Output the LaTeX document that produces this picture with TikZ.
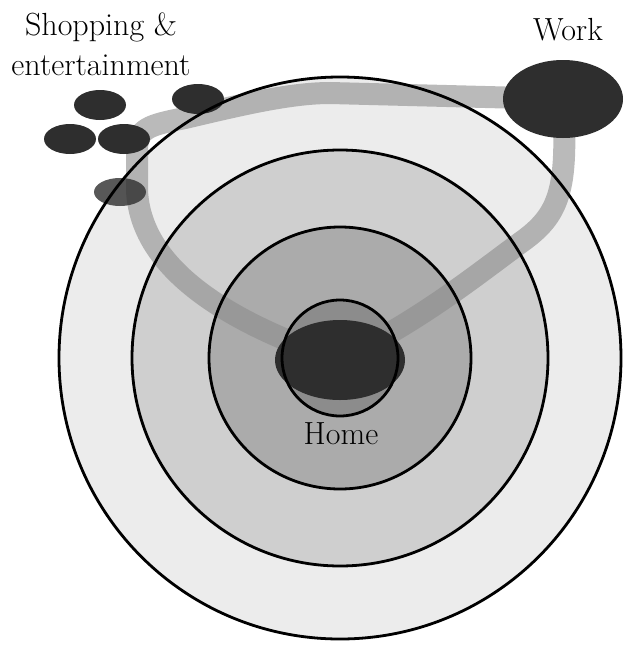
\documentclass[tikz,border=0pt]{standalone}
\usepackage{xcolor}
\definecolor{ringOne}{gray}{0.925}
\definecolor{ringTwo}{gray}{0.81}
\definecolor{ringThree}{gray}{0.67}
\definecolor{ringFour}{gray}{0.55}
\definecolor{blobGray}{gray}{0.18}
\definecolor{roadGray}{gray}{0.55}

\begin{document}
\begin{tikzpicture}[x=1pt,y=-1pt,
  road/.style={draw=roadGray,line width=22pt,draw opacity=0.6},
  blob/.style={fill=blobGray},
  ring/.style={draw=black,line width=2.8pt},
  lbl/.style={font=\fontsize{32}{40}\selectfont,inner sep=0pt}]
\useasboundingbox (0,0) rectangle (624,645);
\coordinate (mid) at (340,358);
\coordinate (home) at (340,360);
\coordinate (work) at (563,99);
\coordinate (shopA) at (100,105);
\coordinate (shopB) at (198,99);
\coordinate (shopC) at (70,139);
\coordinate (shopD) at (124,139);
\coordinate (shopE) at (120,192);
% zones
\fill[ringOne] (mid) circle (281);
\fill[ringTwo] (mid) circle (208);
\fill[ringThree] (mid) circle (131);
\fill[ringFour] (mid) circle (58);
% trips
\draw[road] (home) .. controls (220,320) and (140,265) .. (137,190) -- (137,150)
  .. controls (137,128) and (150,125) .. (185,118)
  .. controls (240,105) and (290,93) .. (330,93) -- (work);
\draw[road] (work) .. controls (568,190) and (560,215) .. (520,243)
  .. controls (470,280) and (420,320) .. (home);
% places
\fill[blob] (home) ellipse [x radius=65,y radius=40];
\fill[blob] (work) ellipse [x radius=60,y radius=39];
\foreach \s in {shopA,shopB,shopC,shopD}
  \fill[blob] (\s) ellipse [x radius=26,y radius=15];
\fill[blob,fill opacity=0.8] (shopE) ellipse [x radius=26,y radius=14];
% borders
\foreach \r in {281,208,131,58}
  \draw[ring] (mid) circle (\r);
% labels
\node[lbl,anchor=north,align=center] (shopping) at (101,13) {Shopping \&\\entertainment};
\node[lbl,anchor=base] (worklbl) at (568,40) {Work};
\node[lbl,anchor=base] (homelbl) at (341,444) {Home};
\end{tikzpicture}
\end{document}
